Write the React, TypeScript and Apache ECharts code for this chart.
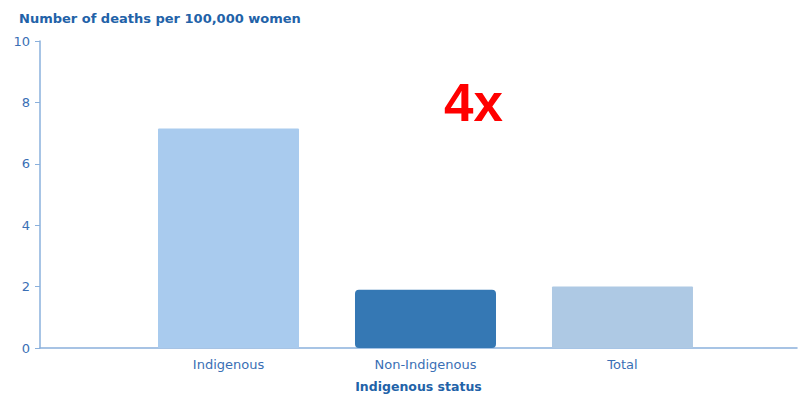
import React, { useEffect, useRef } from "react";
import * as echarts from "echarts";

const categories = ["Indigenous", "Non-Indigenous", "Total"];
const categoryPositions = [1, 2, 3];
const deathRates = [7.15, 1.9, 2.0];
const barColors = ["#a9cbee", "#3578b4", "#aec9e4"];
const yTicks = { min: 0, max: 10, interval: 2 };
const xRange = { min: 0.043, max: 3.886 };
const chartTitle = "Number of deaths per 100,000 women";
const xAxisTitle = "Indigenous status";
const annotation = "4x";

const FONT = "'DejaVu Sans', Verdana, sans-serif";
const LABEL_COLOR = "#3a6fb5";
const TITLE_COLOR = "#2262a8";
const AXIS_COLOR = "#8ab0dc";

export default function App() {
  const ref = useRef<HTMLDivElement>(null);
  useEffect(() => {
    if (!ref.current) return;
    const chart = echarts.init(ref.current, undefined, { renderer: "svg" });
    chart.setOption({
      animation: false,
      backgroundColor: "#ffffff",
      title: {
        text: chartTitle,
        left: 14,
        top: 7,
        textStyle: { fontFamily: FONT, fontSize: 13, fontWeight: "bold", color: TITLE_COLOR },
      },
      grid: { left: 40, right: 1, top: 41, bottom: 47 },
      xAxis: {
        type: "value",
        min: xRange.min,
        max: xRange.max,
        axisLine: { show: true, lineStyle: { color: AXIS_COLOR, width: 1.5 } },
        axisTick: { show: false },
        splitLine: { show: false },
        axisLabel: {
          customValues: categoryPositions,
          formatter: (v: number) => categories[categoryPositions.indexOf(Math.round(v))] ?? "",
          fontFamily: FONT,
          fontSize: 13,
          color: LABEL_COLOR,
          margin: 10,
        },
        name: xAxisTitle,
        nameLocation: "middle",
        nameGap: 32,
        nameTextStyle: {
          fontFamily: FONT,
          fontSize: 12.5,
          fontWeight: "bold",
          color: TITLE_COLOR,
        },
      },
      yAxis: {
        type: "value",
        min: yTicks.min,
        max: yTicks.max,
        interval: yTicks.interval,
        axisLine: { show: true, lineStyle: { color: AXIS_COLOR, width: 1.5 } },
        axisTick: { show: true, length: 5, lineStyle: { color: AXIS_COLOR } },
        axisLabel: { fontFamily: FONT, fontSize: 13, color: LABEL_COLOR, margin: 10 },
        splitLine: { show: false },
      },
      series: [
        {
          type: "bar",
          barWidth: 141,
          z: 1,
          data: deathRates.map((v, i) => ({
            value: [categoryPositions[i], v],
            itemStyle: {
              color: barColors[i],
              borderRadius: i === 1 ? 3 : 1,
              borderColor: i === 1 ? barColors[i] : undefined,
              borderWidth: i === 1 ? 2 : 0,
            },
          })),
        },
      ],
      graphic: [
        {
          type: "text",
          left: 444,
          top: 76,
          style: {
            text: annotation,
            fontFamily: "'Liberation Sans', Arial, sans-serif",
            fontSize: 53,
            fontWeight: "bold",
            fill: "#ff0000",
          },
        },
      ],
    });
    return () => chart.dispose();
  }, []);
  return (
    <div
      ref={ref}
      style={{ position: "fixed", left: 0, top: 0, width: 798, height: 398 }}
    />
  );
}
